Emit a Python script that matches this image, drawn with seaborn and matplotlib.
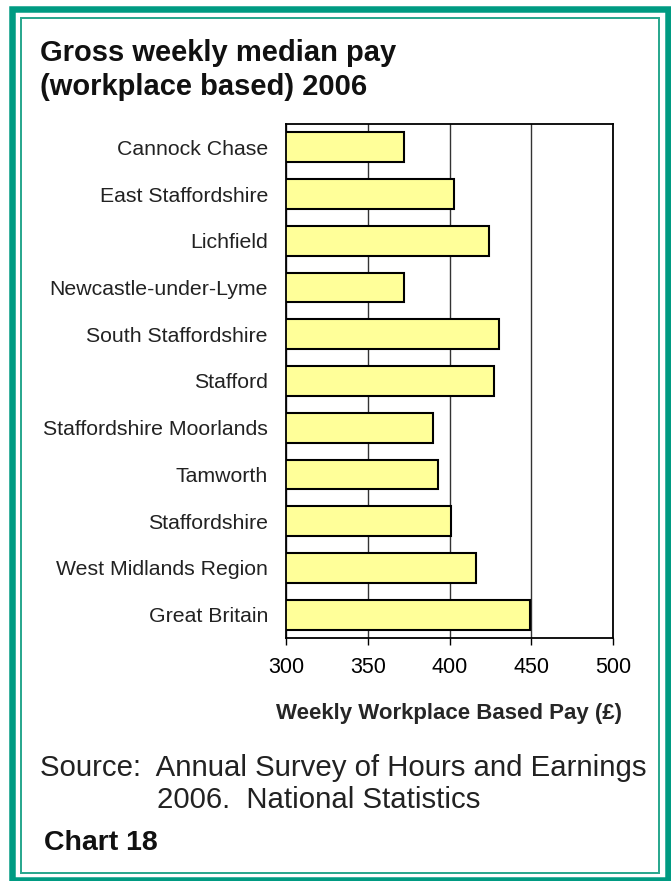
import matplotlib
matplotlib.use("Agg")
import matplotlib.pyplot as plt
import seaborn as sns
import pandas as pd
from matplotlib.patches import Rectangle

# Chart data
areas = [
    "Cannock Chase",
    "East Staffordshire",
    "Lichfield",
    "Newcastle-under-Lyme",
    "South Staffordshire",
    "Stafford",
    "Staffordshire Moorlands",
    "Tamworth",
    "Staffordshire",
    "West Midlands Region",
    "Great Britain",
]
weekly_pay = [372, 403, 424, 372, 430, 427, 390, 393, 401, 416, 449]
x_ticks = [300, 350, 400, 450, 500]

df = pd.DataFrame({"area": areas, "pay": weekly_pay})

sns.set_style("white")
plt.rcParams["font.family"] = ["Liberation Sans", "DejaVu Sans"]

W, H = 671, 881
fig = plt.figure(figsize=(W / 100, H / 100), dpi=100)
fig.patch.set_facecolor("white")

# axes box measured in pixels from the reference
left, right, top, bottom = 286, 613, 124, 638
ax = fig.add_axes([left / W, 1 - bottom / H, (right - left) / W, (bottom - top) / H])

sns.barplot(data=df, x="pay", y="area", orient="h", color="#FFFF99",
            saturation=1, edgecolor="black", linewidth=1.5, width=0.64, ax=ax)

ax.set_xlim(300, 500)
ax.set_xticks(x_ticks)
ax.xaxis.grid(True, color="#333333", linewidth=1)
ax.set_axisbelow(True)
for s in ax.spines.values():
    s.set_visible(True)
    s.set_color("black")
    s.set_linewidth(1.3)
ax.tick_params(axis="x", direction="out", length=5, width=1, colors="black",
               labelsize=15.5, pad=9, bottom=True)
ax.tick_params(axis="y", length=0, labelsize=15.3, pad=13, colors="#222222")
ax.set_ylabel("")
ax.set_xlabel("Weekly Workplace Based Pay (£)", fontsize=16, fontweight="bold",
              labelpad=18)

# title and notes
fig.text(40 / W, 1 - 70 / H, "Gross weekly median pay\n(workplace based) 2006",
         fontsize=21, fontweight="bold", va="center", ha="left", linespacing=1.25,
         color="#111111")
fig.text(40 / W, 1 - 768 / H, "Source:  Annual Survey of Hours and Earnings",
         fontsize=21.2, ha="left", va="center", color="#222222")
fig.text(157 / W, 1 - 800 / H, "2006.  National Statistics",
         fontsize=21.2, ha="left", va="center", color="#222222")
fig.text(44 / W, 1 - 843 / H, "Chart 18", fontsize=20.5, fontweight="bold",
         ha="left", va="center", color="#111111")


# page border: thick outer line and thin inner line
def px_rect(x0, y0, x1, y1, lw, color):
    fig.patches.append(Rectangle((x0 / W, 1 - y1 / H), (x1 - x0) / W, (y1 - y0) / H,
                                 transform=fig.transFigure, fill=False,
                                 edgecolor=color, linewidth=lw, zorder=0))


px_rect(11.5, 9, 668, 880, 6.5 * 0.72, "#009B82")
px_rect(21, 18, 659, 873, 2 * 0.72, "#2BA88F")

fig.savefig("out.png", dpi=100, facecolor="white")
